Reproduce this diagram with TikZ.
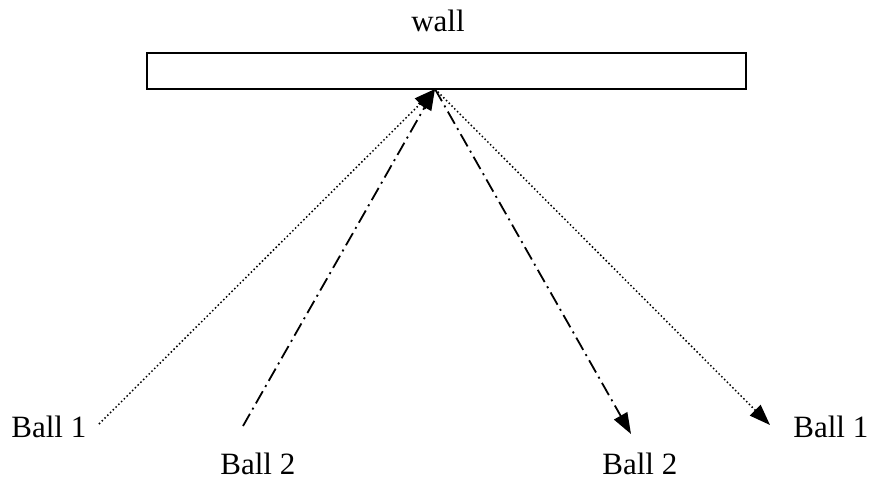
\documentclass[tikz,border=0pt]{standalone}
\usepackage{fontspec}
\setmainfont{Liberation Serif}
\usetikzlibrary{arrows.meta, positioning}
\tikzset{
  wallbox/.style={draw=black, line width=1pt, fill=white, minimum width=299.5pt,
                  minimum height=18pt, inner sep=0pt},
  lbl/.style={font=\fontsize{15.5}{18}\selectfont, inner sep=0pt},
  dotline/.style={line width=0.75pt, dash pattern=on 0.75pt off 1.2pt},
  dashdot/.style={line width=0.9pt, dash pattern=on 7pt off 2.5pt on 1pt off 2.5pt},
  tip/.style={-{Triangle[length=10.5pt, width=7.5pt]}},
}

\begin{document}
\begin{tikzpicture}[x=0.5pt, y=-0.5pt]
  \useasboundingbox (0,0) rectangle (869,479);
  \node[wallbox] (wall) at (446.5,71) {};
  \node[lbl, anchor=base] (walltxt) at (438,31) {wall};
  \coordinate (hit) at (435,89);
  \coordinate (in1) at (99,424);
  \coordinate (in2) at (243,426);
  \coordinate (out2) at (631,434);
  \coordinate (out1) at (770,425);
  \node[lbl, anchor=base west] (ball1l) at (11,437) {Ball 1};
  \node[lbl, anchor=base west] (ball2l) at (220,474) {Ball 2};
  \node[lbl, anchor=base west] (ball2r) at (602,474) {Ball 2};
  \node[lbl, anchor=base west] (ball1r) at (793,437) {Ball 1};
  \draw[dotline, tip] (in1) -- (hit);
  \draw[dashdot, tip] (in2) -- (hit);
  \draw[dashdot, tip] (hit) -- (out2);
  \draw[dotline, tip] (hit) -- (out1);
\end{tikzpicture}
\end{document}
